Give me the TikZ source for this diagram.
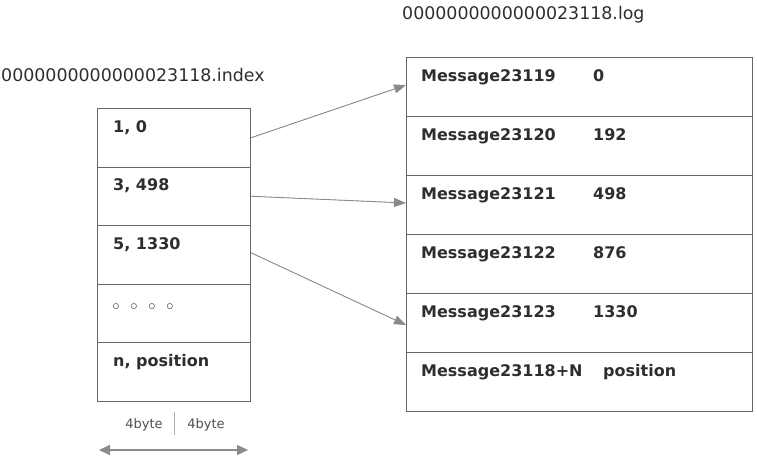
\documentclass[tikz,border=0pt]{standalone}
\usepackage{fontspec}
\setmainfont{DejaVu Sans}
\usetikzlibrary{arrows.meta}
\definecolor{boxc}{HTML}{666666}
\definecolor{arrc}{HTML}{8A8A8A}
\definecolor{txtc}{HTML}{2E2E2E}
\definecolor{lblc}{HTML}{505050}
\begin{document}
\begin{tikzpicture}[x=1pt,y=-1pt,
  lrow/.style={draw=boxc, line width=1pt, minimum width=153pt, minimum height=58.5pt, inner sep=0pt, anchor=north west},
  rrow/.style={draw=boxc, line width=1pt, minimum width=346pt, minimum height=59pt, inner sep=0pt, anchor=north west},
  btxt/.style={anchor=base west, inner sep=0pt, text=txtc, font=\fontsize{16}{19}\selectfont\bfseries},
  title/.style={anchor=base west, inner sep=0pt, text=txtc, font=\fontsize{17.4}{20}\selectfont},
  small/.style={anchor=base, inner sep=0pt, text=lblc, font=\fontsize{13}{15}\selectfont},
  dot/.style={anchor=center, inner sep=0pt, text=txtc, font=\fontsize{16}{18}\selectfont\bfseries},
  link/.style={draw=arrc, line width=0.9pt, -{Triangle[length=12pt,width=9pt]}, fill=arrc},
  span/.style={draw=arrc, line width=1.2pt, {Triangle[length=11pt,width=10pt]}-{Triangle[length=11pt,width=10pt]}, fill=arrc}
]
\useasboundingbox (0,0) rectangle (757,456);

% titles
\node[title] (tlog) at (402,19.5) {0000000000000023118.log};
\node[title] (tidx) at (1,81.5) {0000000000000023118.index};

% index rows
\node[lrow] (i1) at (97,108) {};
\node[lrow] (i2) at (97,166.5) {};
\node[lrow] (i3) at (97,225) {};
\node[lrow] (i4) at (97,283.5) {};
\node[lrow] (i5) at (97,342) {};

\node[btxt] (ti1) at (113,132) {1, 0};
\node[btxt] (ti2) at (113,190.5) {3, 498};
\node[btxt] (ti3) at (113,249) {5, 1330};
\node[dot] (ti4a) at (116,308) {◦};
\node[dot] (ti4b) at (134,308) {◦};
\node[dot] (ti4c) at (152,308) {◦};
\node[dot] (ti4d) at (170,308) {◦};
\node[btxt] (ti5) at (113,366) {n, position};

% log rows
\node[rrow] (l1) at (406,57) {};
\node[rrow] (l2) at (406,116) {};
\node[rrow] (l3) at (406,175) {};
\node[rrow] (l4) at (406,234) {};
\node[rrow] (l5) at (406,293) {};
\node[rrow] (l6) at (406,352) {};

\node[btxt] (m1) at (421,81) {Message23119};
\node[btxt] (n1) at (593,81) {0};
\node[btxt] (m2) at (421,140) {Message23120};
\node[btxt] (n2) at (593,140) {192};
\node[btxt] (m3) at (421,199) {Message23121};
\node[btxt] (n3) at (593,199) {498};
\node[btxt] (m4) at (421,258) {Message23122};
\node[btxt] (n4) at (593,258) {876};
\node[btxt] (m5) at (421,317) {Message23123};
\node[btxt] (n5) at (593,317) {1330};
\node[btxt] (m6) at (421,376) {Message23118+N};
\node[btxt] (n6) at (603,376) {position};

% links
\draw[link] (i1.east) -- ([yshift=2pt]l1.west);
\draw[link] (i2.east) -- ([yshift=2pt]l3.west);
\draw[link] ([yshift=2pt]i3.east) -- ([yshift=-2pt]l5.west);

% byte labels
\node[small] (b1) at (144,428) {4byte};
\node[small] (b2) at (206,428) {4byte};
\coordinate (d1) at (174,412);
\coordinate (d2) at (174,435);
\draw[draw=arrc!70, line width=1pt] (d1) -- (d2);
\coordinate (s1) at (99,450);
\coordinate (s2) at (248,450);
\draw[span] (s1) -- (s2);
\end{tikzpicture}
\end{document}
